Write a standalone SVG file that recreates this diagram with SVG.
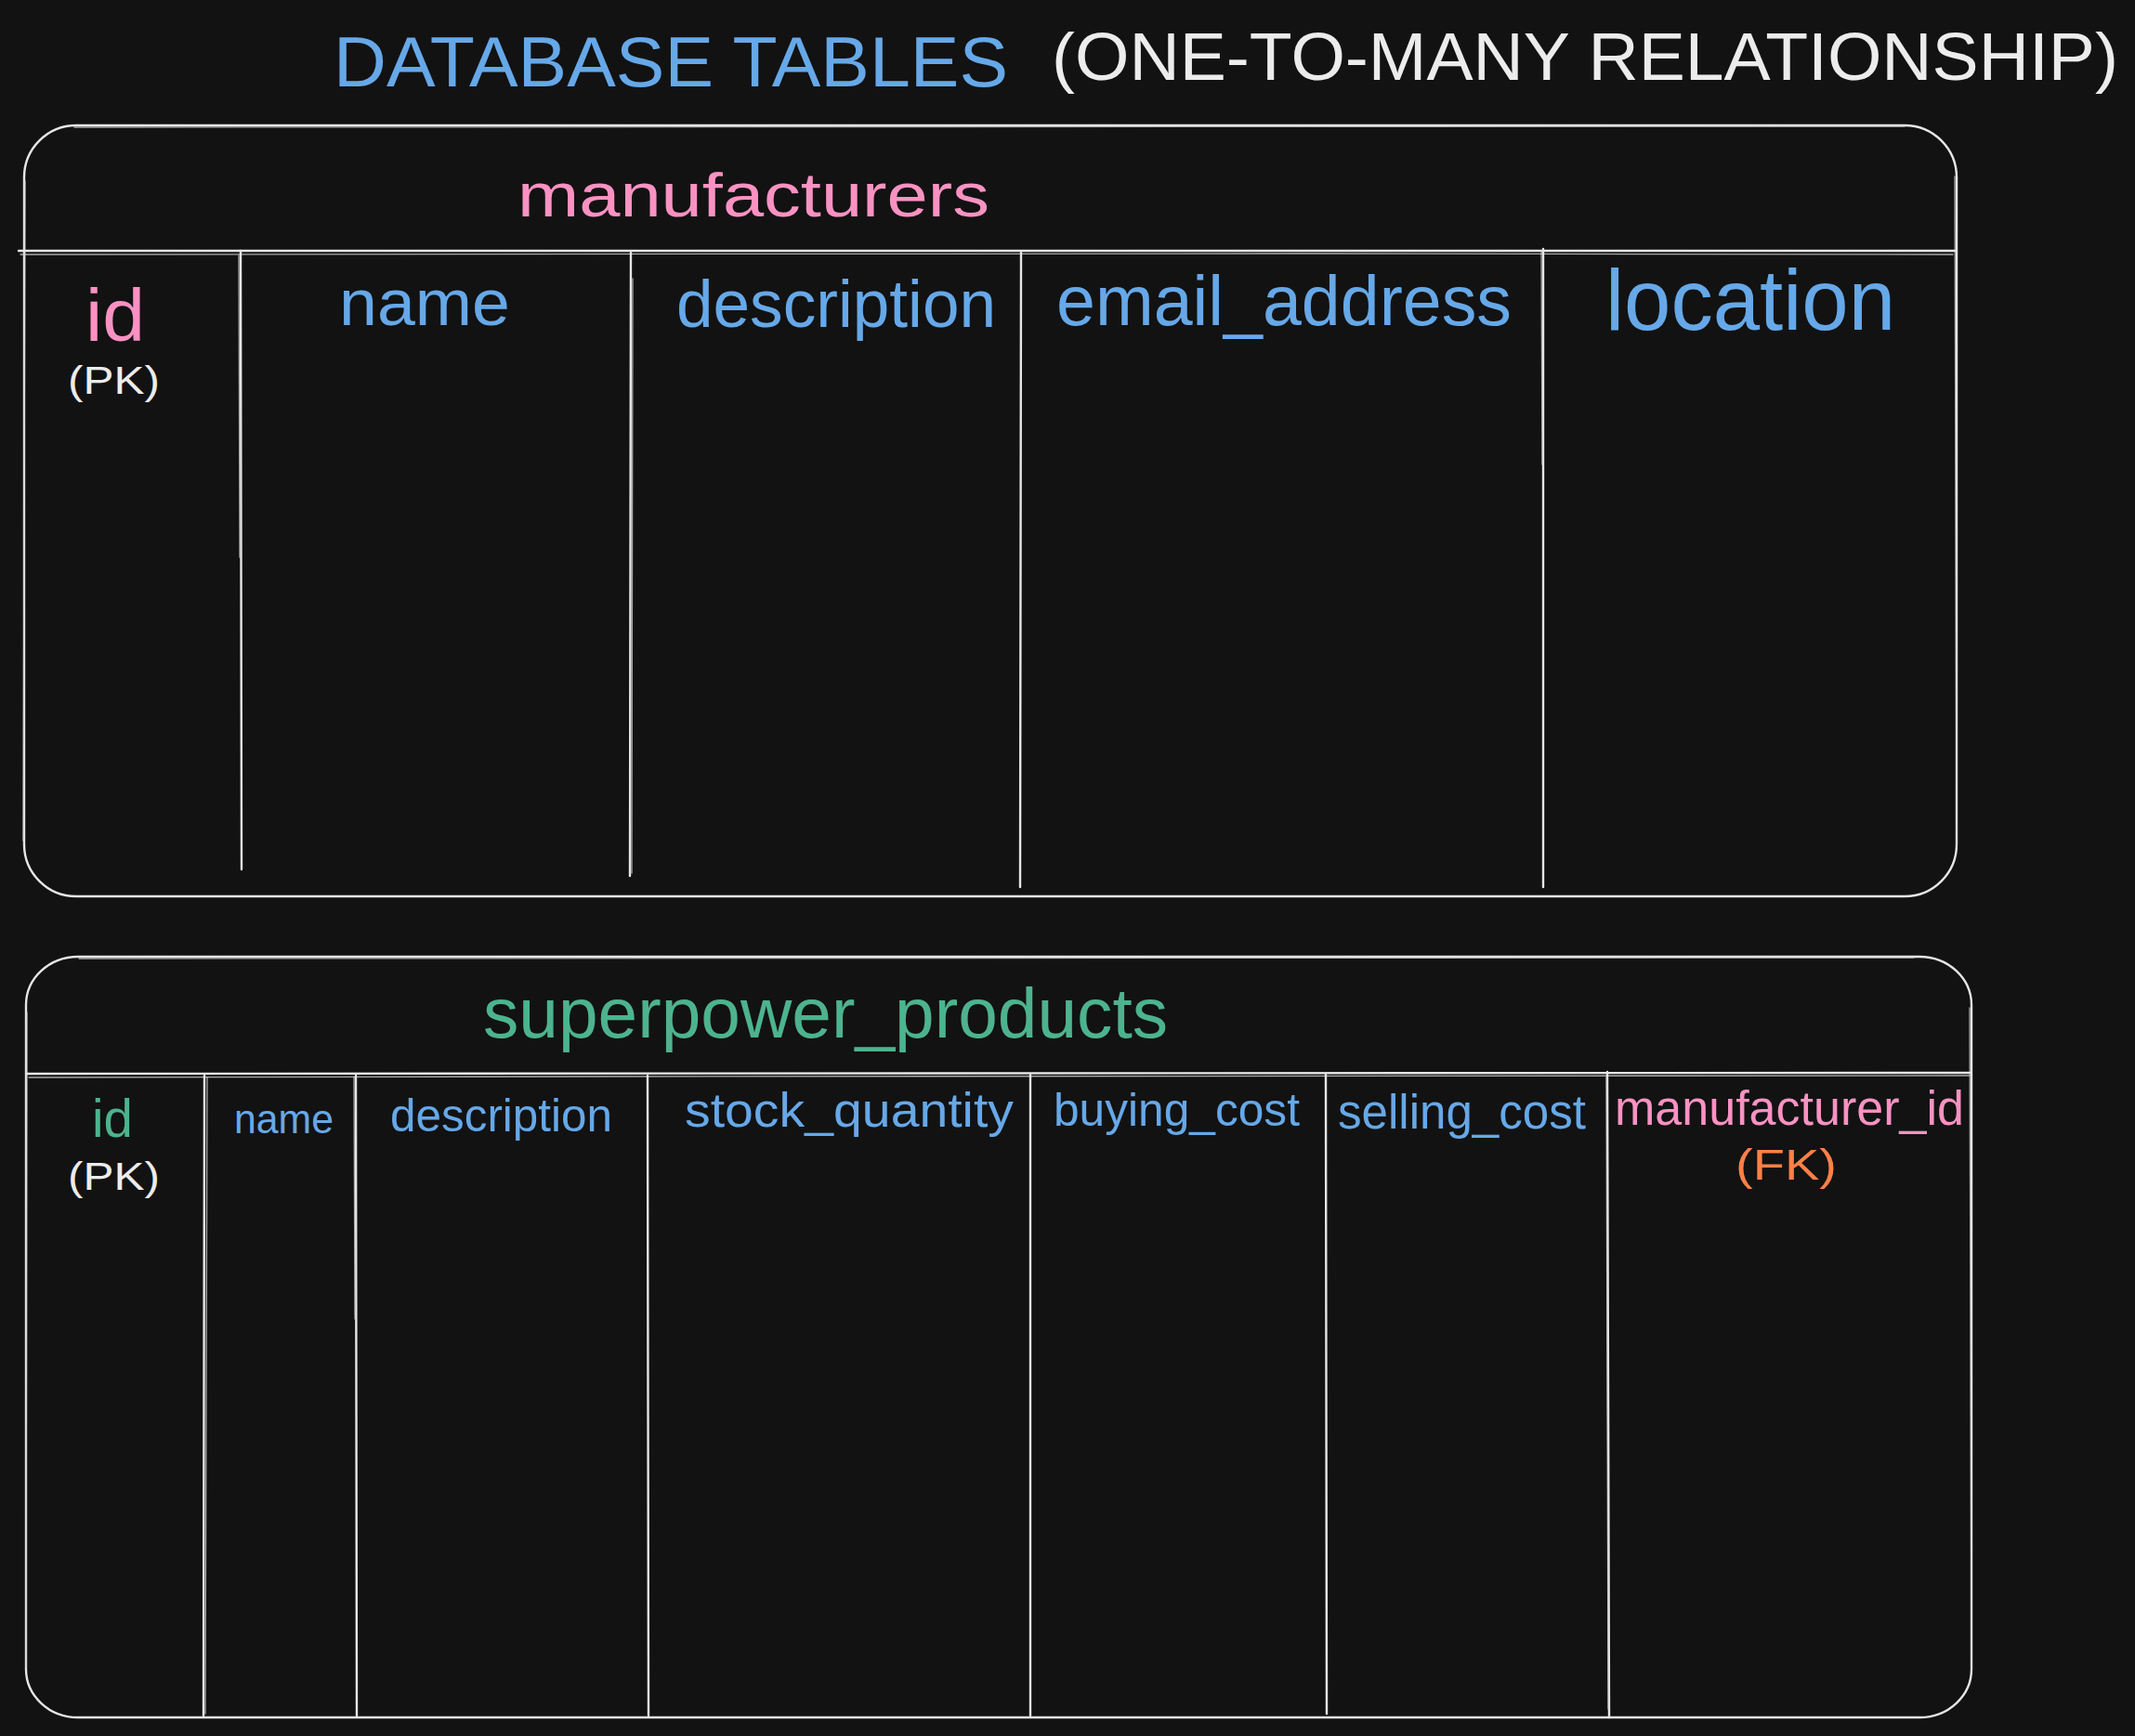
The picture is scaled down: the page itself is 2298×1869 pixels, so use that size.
<svg xmlns="http://www.w3.org/2000/svg" width="2298" height="1869" viewBox="0 0 2298 1869">
<style>
.ln{fill:none;stroke:#e6e6e6;stroke-width:2.4;stroke-linecap:round;stroke-linejoin:round}
.ln2{fill:none;stroke:#d0d0d0;stroke-width:1.3;stroke-linecap:round;opacity:0.8}
text{font-family:"Liberation Sans","DejaVu Sans",Arial,sans-serif;}
.blue{fill:#66a8e8}
.pink{fill:#f992c2}
.green{fill:#4db38e}
.white{fill:#ececec}
.orange{fill:#ff8048}
</style>
<rect width="2298" height="1869" fill="#121212"/>
<g id="title">
<text class="blue" x="359" y="93" font-size="76" textLength="726" lengthAdjust="spacingAndGlyphs">DATABASE TABLES</text>
<text class="white" x="1132" y="86" font-size="73" textLength="1148" lengthAdjust="spacingAndGlyphs">(ONE-TO-MANY RELATIONSHIP)</text>
</g>
<g id="manufacturers">
<rect class="ln" x="26" y="135" width="2080" height="830" rx="56" ry="56"/>
<path class="ln2" d="M80 137 L2050 136 M2104 190 L2106 912 M27 195 L25 905"/>
<path class="ln" d="M20 270 L2104 270"/>
<path class="ln2" d="M22 274 L1400 273 L2102 274"/>
<path class="ln" d="M259 270 L260 936 M679 272 L678 943 M1099 272 L1098 955 M1661 268 L1661 955"/>
<path class="ln2" d="M257 275 L258 600 M681 300 L680 940 M1659 270 L1660 500"/>
<text class="pink" x="557" y="233" font-size="66" textLength="508" lengthAdjust="spacingAndGlyphs">manufacturers</text>
<text class="pink" x="92" y="367" font-size="80" textLength="64" lengthAdjust="spacingAndGlyphs">id</text>
<text class="white" x="73" y="424" font-size="42" textLength="99" lengthAdjust="spacingAndGlyphs">(PK)</text>
<text class="blue" x="365" y="350" font-size="70" textLength="184" lengthAdjust="spacingAndGlyphs">name</text>
<text class="blue" x="728" y="352" font-size="72" textLength="344" lengthAdjust="spacingAndGlyphs">description</text>
<text class="blue" x="1137" y="350" font-size="76" textLength="490" lengthAdjust="spacingAndGlyphs">email_address</text>
<text class="blue" x="1728" y="355" font-size="92" textLength="312" lengthAdjust="spacingAndGlyphs">location</text>
</g>
<g id="superpower_products">
<rect class="ln" x="28" y="1030" width="2094" height="819" rx="56" ry="52"/>
<path class="ln2" d="M85 1032 L2060 1031 M2120 1085 L2122 1800 M29 1090 L28 1795"/>
<path class="ln" d="M29 1156 L2120 1155"/>
<path class="ln2" d="M31 1160 L650 1159 L2120 1158"/>
<path class="ln" d="M220 1158 L219 1847 M383 1158 L384 1847 M697 1158 L698 1847 M1109 1157 L1109 1847 M1427 1157 L1428 1845 M1730 1154 L1732 1849"/>
<path class="ln2" d="M223 1160 L221 1845 M381 1160 L382 1420 M1729 1160 L1731 1840"/>
<text class="green" x="520" y="1117" font-size="76" textLength="737" lengthAdjust="spacingAndGlyphs">superpower_products</text>
<text class="green" x="99" y="1224" font-size="58" textLength="44" lengthAdjust="spacingAndGlyphs">id</text>
<text class="white" x="73" y="1281" font-size="42" textLength="99" lengthAdjust="spacingAndGlyphs">(PK)</text>
<text class="blue" x="252" y="1220" font-size="45" textLength="107" lengthAdjust="spacingAndGlyphs">name</text>
<text class="blue" x="420" y="1218" font-size="50" textLength="239" lengthAdjust="spacingAndGlyphs">description</text>
<text class="blue" x="737" y="1213" font-size="52" textLength="354" lengthAdjust="spacingAndGlyphs">stock_quantity</text>
<text class="blue" x="1134" y="1212" font-size="50" textLength="265" lengthAdjust="spacingAndGlyphs">buying_cost</text>
<text class="blue" x="1440" y="1215" font-size="51" textLength="267" lengthAdjust="spacingAndGlyphs">selling_cost</text>
<text class="pink" x="1738" y="1211" font-size="51" textLength="376" lengthAdjust="spacingAndGlyphs">manufacturer_id</text>
<text class="orange" x="1868" y="1270" font-size="46" textLength="109" lengthAdjust="spacingAndGlyphs">(FK)</text>
</g>
<g id="connectors"/>
</svg>
